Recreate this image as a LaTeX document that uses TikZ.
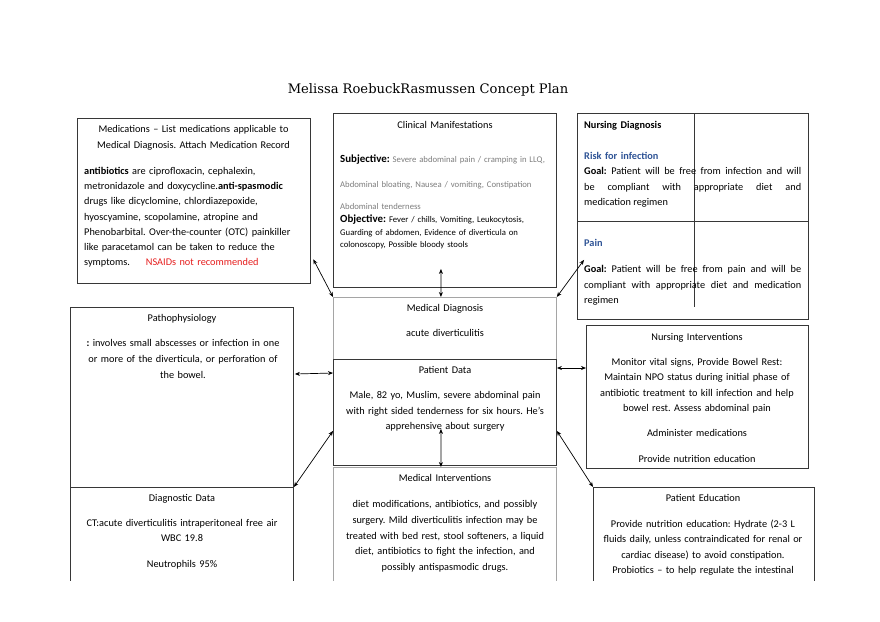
\documentclass[tikz,border=0pt]{standalone}
\usepackage{fontspec}
\setmainfont{Carlito}
\newfontfamily\titlefont{DejaVu Serif}
\usetikzlibrary{arrows.meta,calc}
\definecolor{boxdark}{RGB}{55,55,55}
\definecolor{boxlight}{RGB}{165,165,165}
\definecolor{txtgray}{RGB}{125,125,125}
\definecolor{hblue}{RGB}{47,84,150}
\definecolor{warnred}{RGB}{230,30,30}
\tikzset{
  box/.style={draw=boxdark, line width=0.9pt, rectangle, inner sep=0pt, anchor=north west},
  lbox/.style={draw=boxlight, line width=0.8pt, rectangle, inner sep=0pt, anchor=north west},
  txt/.style={inner sep=0pt, font=\fontsize{10.3}{15.5}\selectfont, text=black},
  ctxt/.style={txt, align=center, anchor=base},
  ltxt/.style={txt, align=left, anchor=base west},
  arr/.style={{Stealth[length=5pt,width=4pt]}-{Stealth[length=5pt,width=4pt]}, line width=0.7pt, draw=black},
}
\begin{document}
\frenchspacing
\begin{tikzpicture}[x=1pt,y=-1pt]
\useasboundingbox (0,0) rectangle (880,621);
\fill[white] (0,0) rectangle (880,621);

\node[inner sep=0pt, anchor=base, font=\titlefont\fontsize{13.1}{15}\selectfont] (title) at (428,93) {Melissa RoebuckRasmussen Concept Plan};

\begin{scope}
\clip (0,0) rectangle (880,580);
\node[box, line width=1.3pt, minimum width=233pt, minimum height=165pt] (med) at (77,118) {};
\node[box, minimum width=223pt, minimum height=174pt] (clin) at (333,113) {};
\node[box, minimum width=231pt, minimum height=206pt] (nd) at (577,113) {};
\node[box, minimum width=223pt, minimum height=300pt] (path) at (70,307) {};
\node[lbox, minimum width=223pt, minimum height=62pt] (md) at (333,297) {};
\node[box, minimum width=223pt, minimum height=106pt] (pd) at (333,359) {};
\node[box, minimum width=222pt, minimum height=143pt] (ni) at (586,325) {};
\node[box, minimum width=223pt, minimum height=120pt] (dd) at (70,487) {};
\node[lbox, minimum width=223pt, minimum height=140pt] (mi) at (333,467) {};
\node[box, minimum width=221pt, minimum height=120pt] (pe) at (593,487) {};
\end{scope}

% nursing diagnosis dividers
\draw[boxdark, line width=0.9pt] ($(nd.north west)+(0,108)$) -- ($(nd.north east)+(0,108)$);
\draw[boxdark, line width=0.9pt] ($(nd.north west)+(117,0)$) -- ($(nd.north west)+(117,194)$);

% Medications
\node[ctxt, text width=232pt] (medh) at (193.5,132.5) {Medications -- List medications applicable to\\Medical Diagnosis. Attach Medication Record};
\node[ltxt, text width=225pt, font=\fontsize{10.3}{15.2}\selectfont] (medb) at (84,174.5) {\textbf{antibiotics} are ciprofloxacin, cephalexin,\\
metronidazole and doxycycline.\textbf{anti-spasmodic}\\
drugs like dicyclomine, chlordiazepoxide,\\
hyoscyamine, scopolamine, atropine and\\
Phenobarbital. Over-the-counter (OTC) painkiller\\
like paracetamol can be taken to reduce the\\
symptoms.\hspace{16pt}\textcolor{warnred}{NSAIDs not recommended}};

% Clinical manifestations
\node[ctxt, text width=220pt] (clinh) at (445,128.5) {Clinical Manifestations};
\node[ltxt, text width=218pt, font=\fontsize{8.7}{12.5}\selectfont] (clinb) at (340,162) {{\fontsize{10.9}{12}\selectfont\textbf{Subjective:}} \textcolor{txtgray}{Severe abdominal pain / cramping in LLQ,}\\[12.5pt]
\textcolor{txtgray}{Abdominal bloating, Nausea / vomiting, Constipation}\\[9.5pt]
\textcolor{txtgray}{Abdominal tenderness}\\[1pt]
{\fontsize{10.9}{12}\selectfont\textbf{Objective:}} Fever / chills, Vomiting, Leukocytosis,\\
Guarding of abdomen, Evidence of diverticula on\\
colonoscopy, Possible bloody stools};

% Nursing diagnosis
\node[ltxt, text width=218pt] (ndh) at (584,128.5) {\textbf{Nursing Diagnosis}};
\node[ltxt, text width=218pt, text=hblue] (risk) at (584,159.5) {\textbf{Risk for infection}};
\node[txt, anchor=base west, text width=217pt, align=justify] (goal1) at (584,174.5) {\textbf{Goal:} Patient will be free from infection and will\linebreak be compliant with appropriate diet and\linebreak medication regimen};
\node[ltxt, text width=218pt, text=hblue] (pain) at (584,246.5) {\textbf{Pain}};
\node[txt, anchor=base west, text width=217pt, align=justify] (goal2) at (584,272.5) {\textbf{Goal:} Patient will be free from pain and will be\linebreak compliant with appropriate diet and medication\linebreak regimen};

% Pathophysiology
\node[ctxt, text width=220pt] (pathh) at (182,321.5) {Pathophysiology};
\node[ctxt, text width=220pt, font=\fontsize{10.3}{16}\selectfont] (pathb) at (183,346.5) {\textbf{:} involves small abscesses or infection in one\\or more of the diverticula, or perforation of\\the bowel.};

% Medical diagnosis
\node[ctxt, text width=220pt] (mdh) at (445,311.5) {Medical Diagnosis};
\node[ctxt, text width=220pt] (mdb) at (445,336.5) {acute diverticulitis};

% Patient data
\node[ctxt, text width=220pt] (pdh) at (445,373.5) {Patient Data};
\node[ctxt, text width=220pt] (pdb) at (445,398.5) {Male, 82 yo, Muslim, severe abdominal pain\\with right sided tenderness for six hours. He's\\apprehensive about surgery};

% Nursing interventions
\node[ctxt, text width=220pt] (nih) at (697,340.5) {Nursing Interventions};
\node[ctxt, text width=220pt, font=\fontsize{10.3}{15.3}\selectfont] (nib) at (697,365.5) {Monitor vital signs, Provide Bowel Rest:\\Maintain NPO status during initial phase of\\antibiotic treatment to kill infection and help\\bowel rest. Assess abdominal pain\\[9.8pt]Administer medications\\[10.5pt]Provide nutrition education};

% Diagnostic data
\node[ctxt, text width=220pt] (ddh) at (182,501.5) {Diagnostic Data};
\node[ctxt, text width=220pt, font=\fontsize{10.3}{15}\selectfont] (ddb) at (182,526.5) {CT:acute diverticulitis intraperitoneal free air\\WBC 19.8\\[10.5pt]Neutrophils 95\%};

% Medical interventions
\node[ctxt, text width=220pt] (mih) at (445,481.5) {Medical Interventions};
\node[ctxt, text width=220pt, font=\fontsize{10.3}{15.75}\selectfont] (mib) at (445,507.5) {diet modifications, antibiotics, and possibly\\surgery. Mild diverticulitis infection may be\\treated with bed rest, stool softeners, a liquid\\diet, antibiotics to fight the infection, and\\possibly antispasmodic drugs.};

% Patient education
\node[ctxt, text width=220pt] (peh) at (703,501.5) {Patient Education};
\node[ctxt, text width=220pt, font=\fontsize{10.3}{15.3}\selectfont] (peb) at (703,527.5) {Provide nutrition education: Hydrate (2-3 L\\fluids daily, unless contraindicated for renal or\\cardiac disease) to avoid constipation.\\Probiotics -- to help regulate the intestinal};

% connectors
\draw[arr] ($(med.south east)+(2,-25)$) -- (md.north west);
\draw[arr] ($(md.north)+(-4,0)$) -- ($(clin.south)+(-4,-19)$);
\draw[arr] ($(nd.south west)+(7,-60)$) -- (md.north east);
\draw[arr] ($(path.north east)+(1,67)$) -- ($(pd.north west)+(0,14)$);
\draw[arr] ($(pd.north east)+(0,9)$) -- ($(ni.north west)+(0,43)$);
\draw[arr] ($(pd.south)+(-4,-37)$) -- ($(mi.north)+(-4,0)$);
\draw[arr] ($(pd.south west)+(0,-35)$) -- (dd.north east);
\draw[arr] ($(pd.south east)+(0,-35)$) -- (pe.north west);
\end{tikzpicture}
\end{document}
